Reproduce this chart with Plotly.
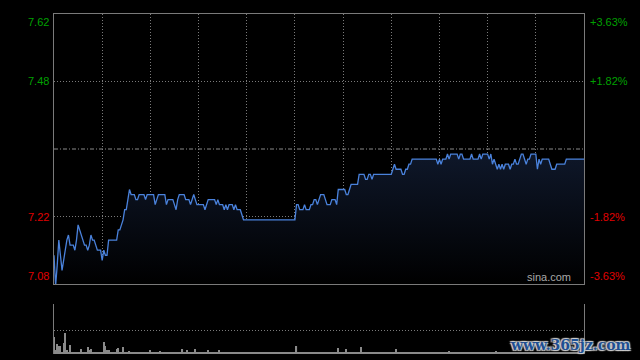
import plotly.graph_objects as go

# ---- data (minute index 0..330, HK session) ----
prev_close = 7.35
price = [
    7.14, 7.08, 7.12, 7.17, 7.14, 7.11, 7.13, 7.15, 7.17, 7.18,
    7.16, 7.16, 7.16, 7.15, 7.17, 7.20, 7.19, 7.18, 7.17, 7.16,
    7.16, 7.15, 7.16, 7.18, 7.17, 7.17, 7.16, 7.15, 7.15, 7.15,
    7.13, 7.15, 7.14, 7.14, 7.17, 7.17, 7.17, 7.17, 7.17, 7.17,
    7.19, 7.19, 7.20, 7.21, 7.23, 7.23, 7.25, 7.27, 7.26, 7.26,
    7.26, 7.25, 7.25, 7.26, 7.26, 7.26, 7.26, 7.25, 7.26, 7.26,
    7.26, 7.26, 7.26, 7.24, 7.25, 7.26, 7.26, 7.26, 7.26, 7.26,
    7.24, 7.25, 7.25, 7.25, 7.25, 7.24, 7.23, 7.25, 7.26, 7.26,
    7.26, 7.26, 7.25, 7.25, 7.25, 7.24, 7.25, 7.26, 7.25, 7.24,
    7.24, 7.24, 7.24, 7.24, 7.23, 7.24, 7.25, 7.25, 7.25, 7.25,
    7.25, 7.24, 7.25, 7.24, 7.24, 7.24, 7.23, 7.24, 7.23, 7.24,
    7.24, 7.24, 7.23, 7.24, 7.23, 7.23, 7.23, 7.22, 7.21, 7.21,
    7.21, 7.21, 7.21, 7.21, 7.21, 7.21, 7.21, 7.21, 7.21, 7.21,
    7.21, 7.21, 7.21, 7.21, 7.21, 7.21, 7.21, 7.21, 7.21, 7.21,
    7.21, 7.21, 7.21, 7.21, 7.21, 7.21, 7.21, 7.21, 7.21, 7.21,
    7.21, 7.24, 7.24, 7.23, 7.23, 7.23, 7.24, 7.23, 7.23, 7.23,
    7.24, 7.24, 7.25, 7.25, 7.24, 7.25, 7.26, 7.26, 7.26, 7.25,
    7.24, 7.24, 7.24, 7.25, 7.25, 7.25, 7.24, 7.27, 7.27, 7.27,
    7.27, 7.27, 7.26, 7.26, 7.27, 7.28, 7.28, 7.28, 7.28, 7.28,
    7.30, 7.30, 7.30, 7.30, 7.29, 7.29, 7.30, 7.30, 7.29, 7.30,
    7.30, 7.30, 7.30, 7.30, 7.30, 7.30, 7.30, 7.30, 7.30, 7.30,
    7.30, 7.31, 7.32, 7.31, 7.31, 7.31, 7.31, 7.30, 7.30, 7.31,
    7.31, 7.32, 7.32, 7.33, 7.33, 7.33, 7.33, 7.33, 7.33, 7.33,
    7.33, 7.33, 7.33, 7.33, 7.33, 7.33, 7.33, 7.33, 7.33, 7.32,
    7.33, 7.32, 7.33, 7.33, 7.33, 7.34, 7.33, 7.34, 7.34, 7.34,
    7.34, 7.34, 7.33, 7.34, 7.34, 7.33, 7.33, 7.33, 7.33, 7.33,
    7.34, 7.33, 7.33, 7.33, 7.33, 7.34, 7.33, 7.34, 7.34, 7.34,
    7.34, 7.33, 7.34, 7.32, 7.33, 7.32, 7.31, 7.32, 7.31, 7.32,
    7.31, 7.32, 7.32, 7.32, 7.31, 7.32, 7.32, 7.33, 7.32, 7.32,
    7.33, 7.34, 7.34, 7.33, 7.32, 7.33, 7.33, 7.34, 7.34, 7.34,
    7.34, 7.31, 7.33, 7.32, 7.33, 7.33, 7.33, 7.33, 7.33, 7.32,
    7.31, 7.31, 7.31, 7.32, 7.32, 7.32, 7.32, 7.32, 7.32, 7.33,
    7.33, 7.33, 7.33, 7.33, 7.33, 7.33, 7.33, 7.33, 7.33, 7.33,
    7.33,
]
volume = [
    17, 4, 10, 8, 8, 2, 11, 21, 4, 2, 9, 2, 2, 2, 2, 2, 2, 5, 2, 2,
    2, 7, 4, 5, 2, 2, 2, 2, 2, 2, 2, 12, 8, 4, 4, 2, 2, 2, 2, 5,
    6, 2, 2, 7, 2, 2, 2, 3, 2, 2, 2, 2, 2, 2, 2, 2, 2, 2, 2, 2,
    4, 2, 2, 2, 2, 2, 3, 2, 2, 2, 2, 2, 2, 2, 2, 2, 2, 2, 2, 2,
    5, 2, 2, 4, 2, 2, 2, 2, 5, 2, 2, 2, 2, 2, 2, 2, 4, 2, 2, 2,
    2, 2, 2, 4, 2, 2, 2, 2, 2, 2, 2, 2, 2, 2, 2, 2, 2, 2, 2, 2,
    2, 2, 2, 2, 2, 2, 2, 2, 2, 2, 2, 2, 2, 2, 2, 2, 2, 2, 2, 2,
    2, 2, 2, 2, 2, 2, 2, 2, 2, 2, 2, 8, 2, 2, 2, 2, 2, 2, 2, 2,
    2, 2, 2, 2, 2, 2, 2, 2, 2, 2, 2, 2, 2, 2, 2, 2, 2, 6, 2, 2,
    2, 2, 5, 2, 2, 2, 2, 2, 2, 2, 2, 7, 2, 2, 2, 2, 2, 2, 2, 2,
    2, 2, 2, 2, 2, 2, 2, 2, 2, 2, 2, 2, 2, 5, 2, 2, 2, 2, 2, 2,
    2, 2, 2, 2, 2, 2, 2, 2, 2, 2, 2, 2, 2, 2, 2, 2, 2, 2, 2, 2,
    2, 2, 2, 2, 2, 2, 3, 2, 2, 2, 2, 2, 2, 2, 2, 2, 2, 2, 2, 2,
    2, 2, 2, 2, 2, 2, 2, 2, 2, 2, 2, 2, 2, 2, 2, 3, 2, 2, 2, 2,
    2, 2, 2, 2, 2, 2, 2, 2, 2, 2, 2, 2, 2, 2, 2, 2, 2, 2, 2, 2,
    2, 2, 2, 2, 2, 2, 2, 2, 2, 2, 2, 2, 2, 2, 2, 2, 2, 2, 2, 2,
    2, 2, 2, 2, 2, 2, 2, 2, 2, 2, 2,
]
minutes = list(range(len(price)))
pct_levels = [3.63, 1.82, -1.82, -3.63]
left_labels = ["7.62", "7.48", "7.22", "7.08"]
right_labels = ["+3.63%", "+1.82%", "-1.82%", "-3.63%"]

# ---- derived ----
lo = prev_close * (1 - pct_levels[0] / 100)
hi = prev_close * (1 + pct_levels[0] / 100)
grid_y = [prev_close * (1 + p / 100) for p in pct_levels[1:3]]

GRID = "#7a7a7a"
BORDER = "#7a7a7a"
GREEN = "#00a000"
RED = "#e00000"
FONT = "Liberation Sans, Arial, sans-serif"
DOT = "1px,2px"

fig = go.Figure()
fig.add_trace(go.Scatter(
    x=minutes, y=price, mode="lines",
    line=dict(color="#4a82dc", width=1.3),
    fill="tozeroy",
    fillgradient=dict(type="vertical", start=lo, stop=prev_close,
                      colorscale=[[0, "rgba(0,0,0,1)"], [1, "#0f182b"]]),
    hoverinfo="skip", xaxis="x", yaxis="y",
))
fig.add_trace(go.Bar(
    x=minutes, y=volume, marker=dict(color="#8a8a8a", line=dict(width=0)),
    hoverinfo="skip", xaxis="x2", yaxis="y2",
))

fig.update_layout(
    width=640, height=360,
    paper_bgcolor="black", plot_bgcolor="black",
    margin=dict(l=54, r=56, t=14, b=6),
    showlegend=False, bargap=0.3,
    xaxis=dict(domain=[0, 1], range=[0, 330], anchor="y",
               tickvals=list(range(30, 330, 30)), showticklabels=False, ticks="",
               showgrid=True, gridcolor=GRID, griddash=DOT, gridwidth=1,
               showline=True, mirror=True, linecolor=BORDER, linewidth=1,
               zeroline=False, fixedrange=True),
    yaxis=dict(domain=[70 / 340, 1], range=[lo, hi], anchor="x",
               tickvals=grid_y, showticklabels=False, ticks="",
               showgrid=True, gridcolor=GRID, griddash=DOT, gridwidth=1,
               showline=True, mirror=True, linecolor=BORDER, linewidth=1,
               zeroline=False, fixedrange=True),
    xaxis2=dict(domain=[0, 1], range=[0, 330], anchor="y2",
                showticklabels=False, ticks="", showgrid=False,
                showline=False, zeroline=False, fixedrange=True),
    yaxis2=dict(domain=[0, 50 / 340], range=[0, 50], anchor="x2",
                tickvals=[24, 50], showticklabels=False, ticks="",
                showgrid=True, gridcolor=GRID, griddash=DOT, gridwidth=1,
                showline=True, mirror=True, linecolor=BORDER, linewidth=1,
                zeroline=False, fixedrange=True),
)

# previous-close reference line
fig.add_shape(type="line", xref="x domain", yref="y", x0=0, x1=1,
              y0=prev_close, y1=prev_close,
              line=dict(color="#8a8a8a", width=1, dash="4px,2px,1px,2px"))

# axis labels
label_y = [hi, grid_y[0], grid_y[1], lo]
anchors = ["top", "middle", "middle", "bottom"]
colors = [GREEN, GREEN, RED, RED]
for yv, anc, col, lt, rt in zip(label_y, anchors, colors, left_labels, right_labels):
    fig.add_annotation(xref="paper", yref="y", x=0, y=yv, text=lt, showarrow=False,
                       xanchor="right", yanchor=anc, xshift=-3,
                       font=dict(family=FONT, size=11, color=col))
    fig.add_annotation(xref="paper", yref="y", x=1, y=yv, text=rt, showarrow=False,
                       xanchor="left", yanchor=anc, xshift=4,
                       font=dict(family=FONT, size=11, color=col))

fig.add_annotation(xref="paper", yref="y", x=1, y=lo, text="sina.com", showarrow=False,
                   xanchor="right", yanchor="bottom", xshift=-11, yshift=-1,
                   font=dict(family=FONT, size=11, color="#a8a8a8"))
fig.add_annotation(xref="paper", yref="paper", x=1.0925, y=0.026, text="<b>www.365jz.com</b>",
                   showarrow=False, xanchor="right", yanchor="middle",
                   font=dict(family="DejaVu Serif, serif", size=14, color="#1e4f92",
                             shadow="1px 1px 1px #cfcfcf, -1px -1px 1px #cfcfcf, 1px -1px 1px #cfcfcf, -1px 1px 1px #cfcfcf"))

fig.write_html("out.html", config={"displayModeBar": False},
               post_script="document.body.style.margin='0';document.body.style.background='black';")
